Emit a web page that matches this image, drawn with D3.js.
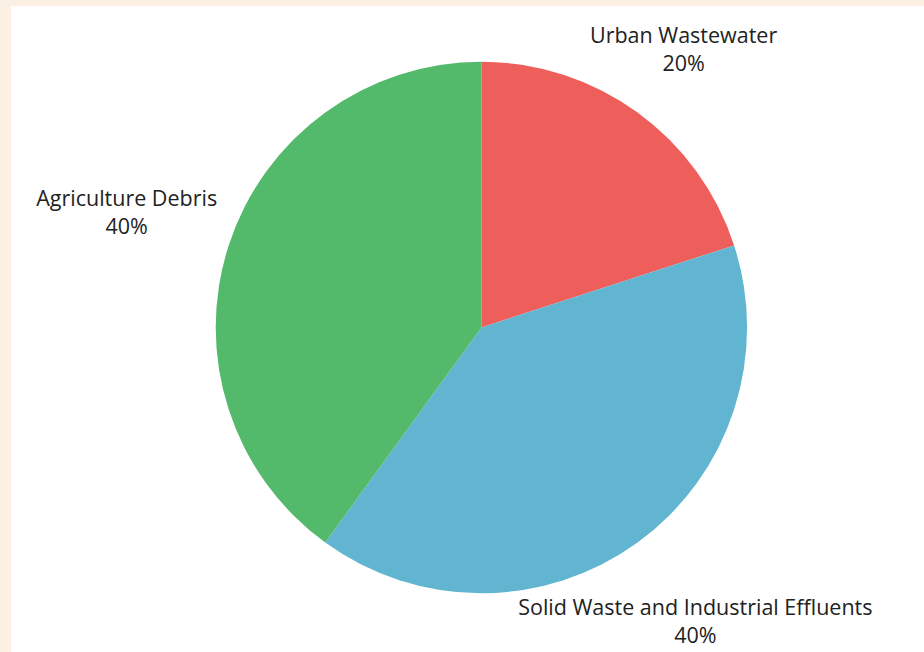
<!DOCTYPE html>
<html>
<head>
<meta charset="utf-8">
<script src="https://cdn.jsdelivr.net/npm/d3@7"></script>
<style>
  html, body { margin: 0; padding: 0; background: #fcefe3; }
  svg { display: block; }
</style>
</head>
<body>
<svg id="chart" width="924" height="652"></svg>
<script>
// Data
const categories = ['Urban Wastewater', 'Solid Waste and Industrial Effluents', 'Agriculture Debris'];
const shares = [20, 40, 40];
const colors = ['#ee5f5b', '#62b5d0', '#53b96b'];

const width = 924, height = 652;
const cx = 481.4, cy = 327.5, radius = 265.7;
// distance of each label block centre from the pie centre, along the slice's mid angle
const labelDist = [344, 364, 373];

const svg = d3.select('#chart');

// white panel over the peach backdrop
svg.append('rect')
  .attr('x', 11).attr('y', 6)
  .attr('width', width - 11).attr('height', height - 6)
  .attr('fill', '#ffffff');

const pie = d3.pie().sort(null).value(d => d.value);
const arcs = pie(categories.map((c, i) => ({ name: c, value: shares[i], color: colors[i] })));

const arc = d3.arc().innerRadius(0).outerRadius(radius);

const g = svg.append('g').attr('transform', `translate(${cx},${cy})`);

g.selectAll('path')
  .data(arcs)
  .join('path')
  .attr('d', arc)
  .attr('fill', d => d.data.color);

// Labels
const labels = g.selectAll('text.label')
  .data(arcs)
  .join('text')
  .attr('class', 'label')
  .attr('text-anchor', 'middle')
  .attr('font-family', "'Open Sans', sans-serif")
  .attr('font-size', 21.5)
  .attr('fill', '#222')
  .attr('transform', (d, i) => {
    const a = (d.startAngle + d.endAngle) / 2;
    const x = Math.sin(a) * labelDist[i];
    const y = -Math.cos(a) * labelDist[i];
    return `translate(${x},${y})`;
  });

labels.append('tspan')
  .attr('x', 0).attr('y', -6.5)
  .text(d => d.data.name);

labels.append('tspan')
  .attr('x', 0).attr('y', 21.5)
  .text(d => d.data.value + '%');
</script>
</body>
</html>
